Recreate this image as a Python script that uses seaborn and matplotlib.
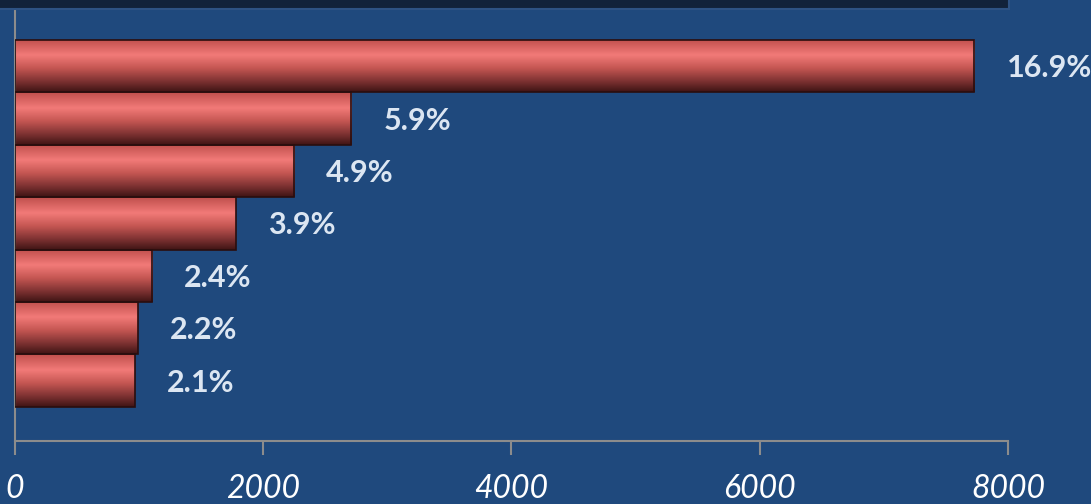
import numpy as np
import pandas as pd
import matplotlib
matplotlib.use("Agg")
import matplotlib.pyplot as plt
import seaborn as sns
from matplotlib.colors import LinearSegmentedColormap
from matplotlib.patches import Rectangle

# ---- data ----
categories = ["1", "2", "3", "4", "5", "6", "7"]
values = [7730, 2710, 2250, 1780, 1105, 990, 965]
percent_labels = ["16.9%", "5.9%", "4.9%", "3.9%", "2.4%", "2.2%", "2.1%"]
x_ticks = [0, 2000, 4000, 6000, 8000]

BG = "#1F497D"
sns.set_theme(style="white")
plt.rcParams["font.family"] = ["Lato", "DejaVu Sans"]

fig = plt.figure(figsize=(10.91, 5.04), dpi=100, facecolor=BG)
ax = fig.add_axes([15 / 1091, 1 - 441 / 504, (1008 - 15) / 1091, (441 - 10) / 504])
ax.set_facecolor(BG)

df = pd.DataFrame({"cat": categories, "val": values})
sns.barplot(data=df, x="val", y="cat", orient="h", width=1.0, color="#C0504D", ax=ax)

cmap = LinearSegmentedColormap.from_list(
    "cyl",
    [(0.0, "#BF4F4C"), (0.3, "#F27A78"), (0.55, "#C45652"), (0.8, "#7C3131"), (1.0, "#3E1414")],
)
grad = np.linspace(0, 1, 256).reshape(-1, 1)
for patch in ax.patches:
    x0, y0, w, h = patch.get_x(), patch.get_y(), patch.get_width(), patch.get_height()
    im = ax.imshow(grad, cmap=cmap, aspect="auto", origin="upper",
                   extent=[x0, x0 + w, y0 + h, y0], zorder=2, interpolation="bilinear")
    im.set_clip_path(patch)
    patch.set_facecolor("none")
    patch.set_edgecolor("#2A0E0E")
    patch.set_linewidth(1.2)
    patch.set_zorder(3)

for i, (v, lab) in enumerate(zip(values, percent_labels)):
    ax.annotate(lab, xy=(v, i), xytext=(32, -2), textcoords="offset pixels",
                va="center", ha="left", fontsize=22, fontweight="bold",
                color="#DCE6F2", annotation_clip=False)

ax.set_xlim(0, 8000)
ax.set_ylim(7.15, -1.07)
ax.set_xticks(x_ticks)
ax.set_xticklabels([str(t) for t in x_ticks])
for lbl in ax.get_xticklabels():
    lbl.set_fontstyle("italic")
ax.tick_params(axis="x", which="major", bottom=True, length=10, width=1.5,
               color="#8C8C8C", labelcolor="white", labelsize=23, pad=14, direction="out")
ax.set_yticks([])
ax.set_xlabel("")
ax.set_ylabel("")
for s in ["top", "right"]:
    ax.spines[s].set_visible(False)
for s in ["left", "bottom"]:
    ax.spines[s].set_color("#8C8C8C")
    ax.spines[s].set_linewidth(1.5)

# dark title strip at top (cut off)
fig.patches.append(Rectangle((-0.01, 1 - 9 / 504), 1009 / 1091 + 0.01, 0.05,
                             transform=fig.transFigure, facecolor="#12223A",
                             edgecolor="#2E5283", linewidth=1.5, zorder=5))

fig.savefig("out.png", dpi=100, facecolor=BG)
